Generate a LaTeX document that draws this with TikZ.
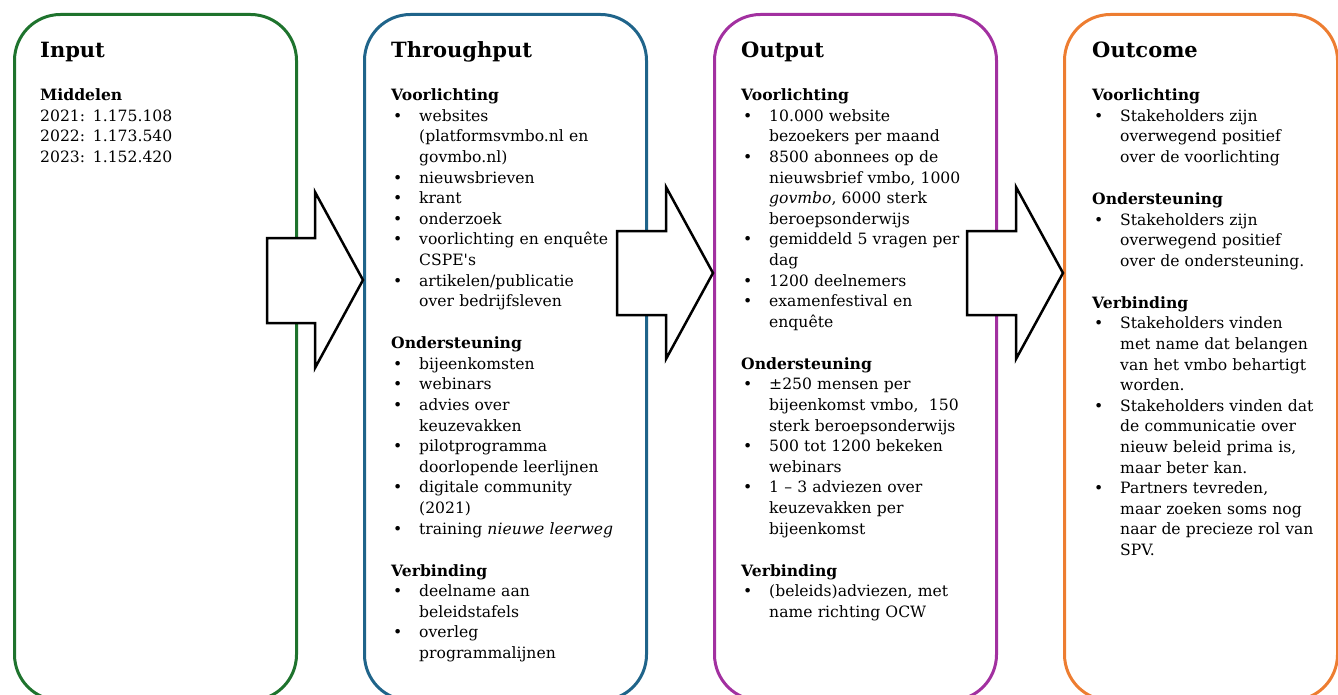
\documentclass[tikz,border=0pt]{standalone}
\usepackage{fontspec}
\setmainfont{DejaVu Serif}[Ligatures=TeXOff]
\usetikzlibrary{calc}
\definecolor{cgreen}{RGB}{30,115,45}
\definecolor{cblue}{RGB}{31,100,138}
\definecolor{cpurple}{RGB}{162,48,160}
\definecolor{corange}{RGB}{237,125,49}
\newcommand{\bitem}[1]{\par\hangindent=28pt\hangafter=1\noindent\makebox[28pt][l]{\hspace{2pt}\textbullet}#1}
\newcommand{\bhead}[1]{\par\noindent\textbf{#1}}
\newcommand{\bgap}{\par\vspace{21.4pt}}
\newcommand{\nl}{\newline}
\begin{document}
\begin{tikzpicture}[x=1pt,y=-1pt,
  box/.style={draw, line width=3pt, rounded corners=46pt, anchor=north west, minimum height=686pt, inner sep=0pt},
  ttl/.style={anchor=base west, inner sep=0pt, font=\fontsize{21}{25}\selectfont\bfseries},
  body/.style={anchor=north west, inner sep=0pt, text width=250pt,
    font=\fontsize{15.6}{20.6}\selectfont},
  blockarrow/.style={draw=black, fill=white, line width=2.5pt, line join=miter}]
\useasboundingbox (0,0) rectangle (1338,695);
% boxes
\node[box, draw=cgreen, minimum width=282pt] (input) at (13,13) {};
\node[box, draw=cblue, minimum width=282pt] (through) at (363,13) {};
\node[box, draw=cpurple, minimum width=282pt] (output) at (713,13) {};
\node[box, draw=corange, minimum width=273pt] (outcome) at (1063,13) {};
% arrows
\coordinate (t1) at ($(through.north west)+(0,267)$);
\coordinate (t2) at ($(output.north west)+(0,260)$);
\coordinate (t3) at ($(outcome.north west)+(0,260)$);
\draw[blockarrow] (t1) -- ++(-48,88) -- ++(0,-45) -- ++(-48,0) -- ++(0,-85) -- ++(48,0) -- ++(0,-46) -- cycle;
\draw[blockarrow] (t2) -- ++(-47,86) -- ++(0,-44) -- ++(-49,0) -- ++(0,-84) -- ++(49,0) -- ++(0,-44) -- cycle;
\draw[blockarrow] (t3) -- ++(-47,86) -- ++(0,-44) -- ++(-49,0) -- ++(0,-84) -- ++(49,0) -- ++(0,-44) -- cycle;
% titles
\node[ttl] (tin) at (40,58) {Input};
\node[ttl] (tthr) at (391,58) {Throughput};
\node[ttl] (tout) at (741,58) {Output};
\node[ttl] (toc) at (1092,58) {Outcome};
% bodies
\node[body] (bin) at (40,86) {\raggedright\strut\textbf{Middelen}\nl
2021: 1.175.108\nl
2022: 1.173.540\nl
2023: 1.152.420\par};
\node[body] (bthr) at (391,86) {\raggedright\strut\textbf{Voorlichting}
\bitem{websites\nl(platformsvmbo.nl en\nl govmbo.nl)}
\bitem{nieuwsbrieven}
\bitem{krant}
\bitem{onderzoek}
\bitem{voorlichting en enquête\nl CSPE's}
\bitem{artikelen/publicatie\nl over bedrijfsleven}
\bgap
\bhead{Ondersteuning}
\bitem{bijeenkomsten}
\bitem{webinars}
\bitem{advies over\nl keuzevakken}
\bitem{pilotprogramma\nl doorlopende leerlijnen}
\bitem{digitale community\nl(2021)}
\bitem{training \textit{nieuwe leerweg}}
\bgap
\bhead{Verbinding}
\bitem{deelname aan\nl beleidstafels}
\bitem{overleg\nl programmalijnen}\par};
\node[body] (bout) at (741,86) {\raggedright\strut\textbf{Voorlichting}
\bitem{10.000 website\nl bezoekers per maand}
\bitem{8500 abonnees op de\nl nieuwsbrief vmbo, 1000\nl\textit{govmbo}, 6000 sterk\nl beroepsonderwijs}
\bitem{gemiddeld 5 vragen per\nl dag}
\bitem{1200 deelnemers}
\bitem{examenfestival en\nl enquête}
\bgap
\bhead{Ondersteuning}
\bitem{±250 mensen per\nl bijeenkomst vmbo,~ 150\nl sterk beroepsonderwijs}
\bitem{500 tot 1200 bekeken\nl webinars}
\bitem{1 – 3 adviezen over\nl keuzevakken per\nl bijeenkomst}
\bgap
\bhead{Verbinding}
\bitem{(beleids)adviezen, met\nl name richting OCW}\par};
\node[body] (boc) at (1092,86) {\raggedright\strut\textbf{Voorlichting}
\bitem{Stakeholders zijn\nl overwegend positief\nl over de voorlichting}
\bgap
\bhead{Ondersteuning}
\bitem{Stakeholders zijn\nl overwegend positief\nl over de ondersteuning.}
\bgap
\bhead{Verbinding}
\bitem{Stakeholders vinden\nl met name dat belangen\nl van het vmbo behartigt\nl worden.}
\bitem{Stakeholders vinden dat\nl de communicatie over\nl nieuw beleid prima is,\nl maar beter kan.}
\bitem{Partners tevreden,\nl maar zoeken soms nog\nl naar de precieze rol van\nl SPV.}\par};
\end{tikzpicture}
\end{document}
